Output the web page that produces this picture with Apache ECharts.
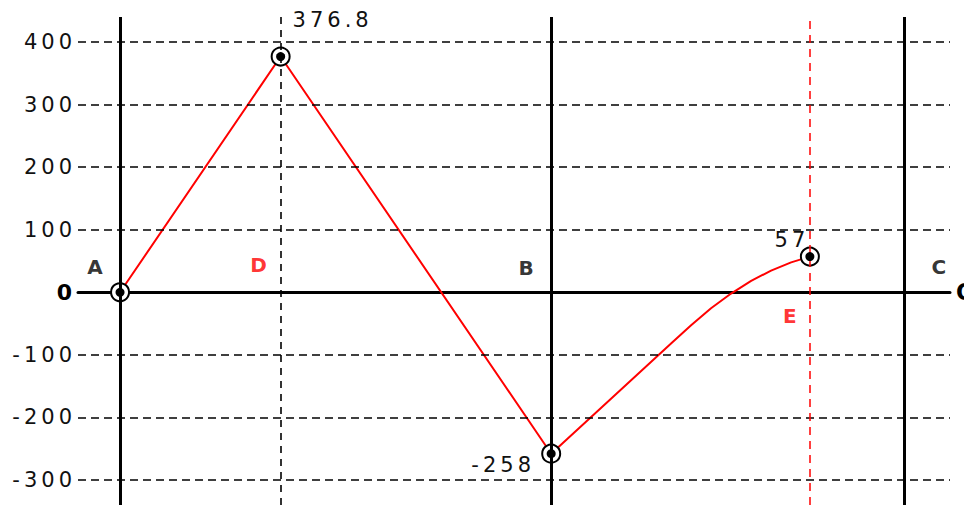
<!DOCTYPE html>
<html><head><meta charset="utf-8">
<script src="https://cdn.jsdelivr.net/npm/echarts@6/dist/echarts.min.js"></script>
<style>html,body{margin:0;padding:0;background:#fff}#c{width:964px;height:505px;letter-spacing:4px}</style>
</head><body><div id="c"></div>
<script>
// ---- data ----
const yTicks = [-300, -200, -100, 0, 100, 200, 300, 400];
const pointNames = ['A', 'D', 'B', 'E', 'C'];
const pointX = [0, 1.49, 4, 6.4, 7.28];
const straightX = [0, 1.49, 4];
const straightY = [0, 376.8, -258];
const curveX = [4, 4.555, 5.112, 5.298, 5.483, 5.669, 5.855, 6.04, 6.226, 6.4];
const curveY = [-258, -170, -82, -52.7, -25.6, -2, 18.2, 34.7, 47.8, 57];
const keyX = [0, 1.49, 4, 6.4];
const keyY = [0, 376.8, -258, 57];
const valueLabels = ['', '376.8', '-258', '57'];

// ---- styles ----
const FONT = 'DejaVu Sans';
const vStyle = {
  A: {type: 'solid', color: '#000', width: 3},
  D: {type: [7, 6], color: '#000', width: 1.6},
  B: {type: 'solid', color: '#000', width: 3},
  E: {type: [8, 6], color: '#ff0000', width: 1.5},
  C: {type: 'solid', color: '#000', width: 3}
};
const nameOffset = {A: [-23, -25], D: [-20, -27], B: [-23, -24], E: [-18, 24], C: [36, -25]};
const nameColor = {A: '#000', D: '#ff0000', B: '#000', E: '#ff0000', C: '#000'};
const valOffset = [[0, 0], [52, -37], [-48, 11], [-18, -17]];

const zip = (xs, ys) => xs.map((x, i) => [x, ys[i]]);

const chart = echarts.init(document.getElementById('c'), null, {renderer: 'svg'});
chart.setOption({
  animation: false,
  backgroundColor: '#fff',
  grid: {left: 78, right: 14, top: 17, bottom: 0, outerBoundsMode: 'none', containLabel: false},
  xAxis: {
    type: 'value', min: -0.39, max: 7.70,
    axisLine: {onZero: true, lineStyle: {color: '#000', width: 3}},
    axisTick: {show: false}, axisLabel: {show: false}, splitLine: {show: false},
    name: 'O', nameLocation: 'end', nameGap: 6,
    nameTextStyle: {fontFamily: FONT, fontWeight: 'bold', fontSize: 23, color: '#000'}
  },
  yAxis: {
    type: 'value', min: -340, max: 440,
    axisLine: {show: false}, axisTick: {show: false}, splitLine: {show: false},
    axisLabel: {
      customValues: yTicks,
      fontFamily: FONT, fontSize: 21, color: '#111', margin: 2,
      formatter: v => v === 0 ? '{z|0}' : String(v),
      rich: {z: {fontFamily: FONT, fontSize: 22, fontWeight: 'bold', color: '#000'}}
    }
  },
  series: [
    {
      type: 'line', data: [], z: 1, silent: true,
      markLine: {
        silent: true, symbol: 'none', label: {show: false}, animation: false,
        data: [
          ...yTicks.filter(v => v !== 0).map(v => ({yAxis: v, lineStyle: {type: [8, 5], color: '#000', width: 1.6}})),
          ...pointNames.map((n, i) => ({xAxis: pointX[i], lineStyle: vStyle[n]}))
        ]
      }
    },
    {
      type: 'line', data: zip(straightX, straightY), z: 3, symbol: 'none',
      lineStyle: {color: '#ff0000', width: 2}
    },
    {
      type: 'line', data: zip(curveX, curveY), z: 3, symbol: 'none', smooth: false,
      lineStyle: {color: '#ff0000', width: 2, join: 'round'}
    },
    {
      type: 'scatter', data: zip(keyX, keyY), z: 4, symbol: 'circle', symbolSize: 18,
      itemStyle: {color: '#fff', borderColor: '#000', borderWidth: 2, opacity: 1}
    },
    {
      type: 'scatter', z: 5, symbol: 'circle', symbolSize: 9,
      itemStyle: {color: '#000', opacity: 1},
      data: keyX.map((x, i) => ({
        value: [x, keyY[i]],
        label: {show: !!valueLabels[i], formatter: valueLabels[i], offset: valOffset[i],
          fontFamily: FONT, fontSize: 21, color: '#111', position: 'inside'}
      }))
    },
    {
      type: 'scatter', z: 5, symbolSize: 0,
      data: pointNames.map((n, i) => ({
        value: [pointX[i], 0], name: n,
        label: {show: true, formatter: n, offset: nameOffset[n], position: 'inside',
          fontFamily: FONT, fontWeight: 'bold', fontSize: 20, color: nameColor[n]}
      }))
    }
  ]
});
</script></body></html>
